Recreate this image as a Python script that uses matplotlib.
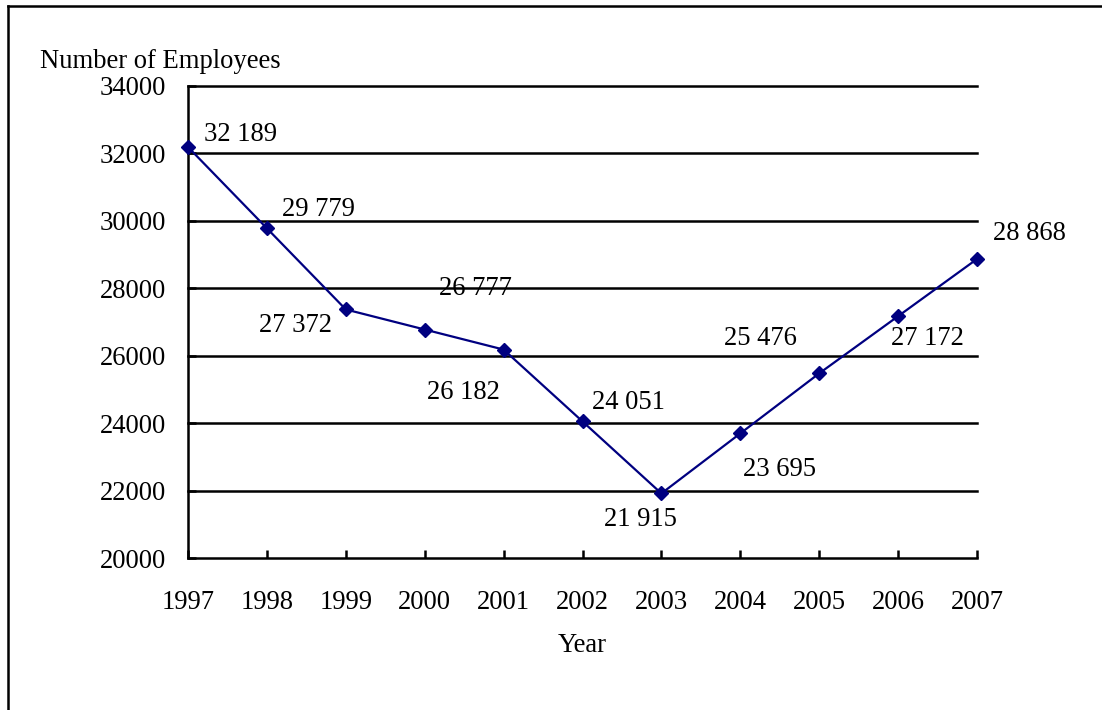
import matplotlib
matplotlib.use("Agg")
import matplotlib.pyplot as plt
from matplotlib.lines import Line2D

plt.rcParams['font.family'] = ['Liberation Serif', 'DejaVu Serif']

years = [1997, 1998, 1999, 2000, 2001, 2002, 2003, 2004, 2005, 2006, 2007]
employees = [32189, 29779, 27372, 26777, 26182, 24051, 21915, 23695, 25476, 27172, 28868]
# label offsets (pixels) from each point
label_dx = [53, 52, -50, 51, -40, 46, -21, 39, -59, 29, 52]
label_dy = [13, 19, -16, 41, -43, 19, -26, -36, 35, -22, 26]
yticks = [20000, 22000, 24000, 26000, 28000, 30000, 32000, 34000]

fs = 19.2

fig = plt.figure(figsize=(11.02, 7.10), dpi=100)
ax = fig.add_axes([188 / 1102, 1 - 558 / 710, (977 - 188) / 1102, (558 - 86) / 710])

for v in yticks[1:]:
    ax.axhline(v, color='black', lw=1.8, zorder=1, clip_on=False)

ax.plot(years, employees, color='#000080', lw=1.6, marker='D', ms=7.5,
        markeredgecolor='#000080', markerfacecolor='#000080', zorder=3,
        clip_on=False)

for x, y, dx, dy in zip(years, employees, label_dx, label_dy):
    txt = f"{y:,}".replace(",", " ")
    ax.annotate(txt, (x, y), xytext=(dx, dy), textcoords='offset pixels',
                ha='center', va='center', fontsize=fs, zorder=2)

ax.set_xlim(1997, 2007)
ax.set_ylim(20000, 34000)
ax.set_xticks(years)
ax.set_yticks(yticks)
ax.set_yticklabels([str(v) for v in yticks])
ax.tick_params(axis='x', direction='in', length=6, width=1.8, pad=23, labelsize=fs)
ax.tick_params(axis='y', direction='in', length=6, width=1.8, pad=16, labelsize=fs)

for side in ['top', 'right']:
    ax.spines[side].set_visible(False)
for side in ['left', 'bottom']:
    ax.spines[side].set_linewidth(1.8)

fig.text(40 / 1102, 1 - 62 / 710, 'Number of Employees', ha='left', va='center', fontsize=fs)
fig.text(582 / 1102, 1 - 646 / 710, 'Year', ha='center', va='center', fontsize=fs)

# outer frame (only top and left visible in the original)
fig.add_artist(Line2D([8 / 1102, 1.0], [1 - 6 / 710, 1 - 6 / 710], color='black', lw=1.8,
                      transform=fig.transFigure))
fig.add_artist(Line2D([8 / 1102, 8 / 1102], [0.0, 1 - 6 / 710], color='black', lw=1.8,
                      transform=fig.transFigure))

fig.savefig('out.png', dpi=100)
